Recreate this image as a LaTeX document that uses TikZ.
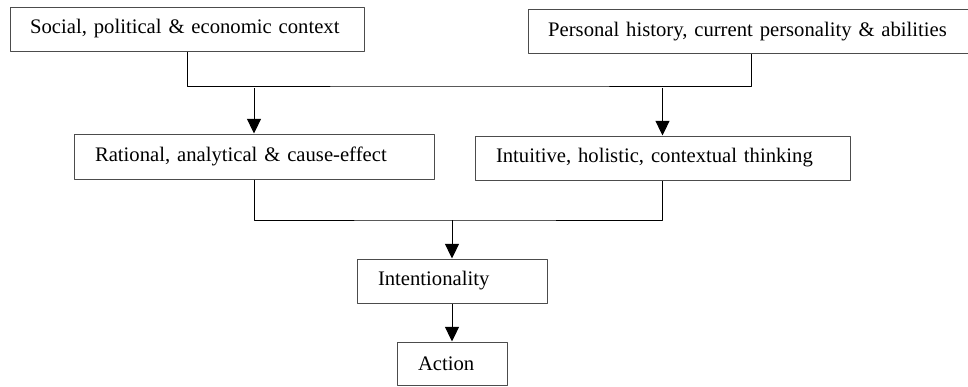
\documentclass[tikz,border=0pt]{standalone}
\usepackage{fontspec}
\setmainfont{Liberation Serif}
\usetikzlibrary{arrows.meta}
\tikzset{box/.style={draw=black!70, line width=0.75pt, minimum height=33pt, inner xsep=15.75pt, inner ysep=0pt, align=left}}
\begin{document}
\begin{tikzpicture}[x=0.75pt, y=-0.75pt, font=\fontsize{15.5}{18}\selectfont, line join=round, line width=0.75pt, >={Triangle[width=10.5pt,length=11pt]}]
	\useasboundingbox (0,0) rectangle (968,386);
	\node[box, text width=236pt, inner xsep=15pt] (social) at (187.5,29) {Social, political \& economic context};
	\node[box, text width=305pt, inner xsep=15pt] (personal) at (751.5,31.5) {Personal history, current personality \& abilities};
	\node[box, text width=238.5pt, minimum height=33.75pt] (rational) at (254,156.5) {Rational, analytical \& cause-effect};
	\node[box, text width=249.75pt] (intuitive) at (662.5,158) {Intuitive, holistic, contextual thinking};
	\node[box, text width=111pt] (intent) at (452,281) {Intentionality};
	\node[box, text width=51pt, minimum height=32.25pt] (action) at (452,363.5) {Action};
	\coordinate (topjoin) at (470,86);
	\coordinate (lowjoin) at (452,220);
	\draw (social.south) |- (topjoin) -| (personal.south);
	\draw[->] (rational.north |- topjoin) ++(0,2) -- (rational.north);
	\draw[->] (intuitive.north |- topjoin) ++(0,2) -- (intuitive.north);
	\draw (rational.south) |- (lowjoin) -| (intuitive.south);
	\draw[->] (lowjoin) -- (intent.north);
	\draw[->] (intent.south) -- (action.north);
\end{tikzpicture}
\end{document}
